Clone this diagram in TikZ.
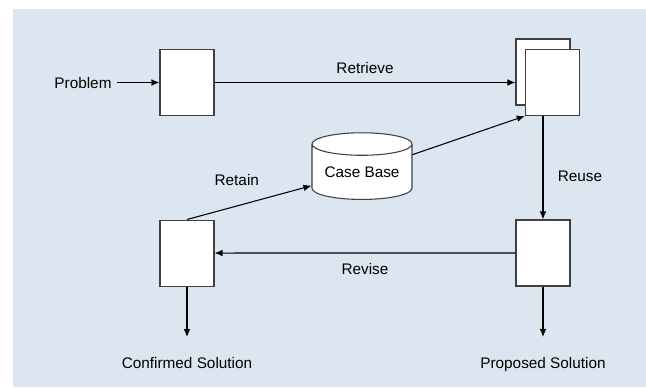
\documentclass[tikz,border=0pt]{standalone}
\usepackage{fontspec}
\setmainfont{Liberation Sans}
\usepackage{tikz}
\usetikzlibrary{arrows.meta,positioning,shapes.geometric}
\definecolor{bgblue}{RGB}{220,230,241}
\definecolor{linegray}{RGB}{64,64,64}
\tikzstyle{stage}=[draw=linegray, fill=white, minimum width=40.5pt, minimum height=49.5pt, inner sep=0pt]
\tikzstyle{casebase}=[draw=linegray, fill=white, cylinder, shape border rotate=90, aspect=0.3, minimum width=75pt, minimum height=50pt, inner sep=0pt]

\begin{document}
\begin{tikzpicture}[x=0.75pt,y=-0.75pt,auto,>={Latex[length=6pt,width=5pt]},line width=0.8pt,text depth=0pt,font=\fontsize{11.5}{13}\selectfont]
    \useasboundingbox (0,0) rectangle (646,387);
    \fill[bgblue] (13,9) rectangle (646,387);
    \node [stage] (a) at (187,82.5) {};
    \node (prob) [left of=a,node distance=78pt] {Problem};
    \node [stage] (back) [right of=a,node distance=267pt,yshift=7.9pt] {};
    \node [stage] (ret) [right of=a,node distance=274pt] {};
    \node [stage] (prop) [below of=back,node distance=135.75pt] {};
    \node [stage] (conf) [below of=a,node distance=127.9pt] {};
    \node [casebase] (cb) at (362,172) {Case Base};
    \node (confsol) [below of=conf,node distance=82.5pt] {Confirmed Solution};
    \node (propsol) [below of=prop,node distance=82.5pt] {Proposed Solution};
    \node (confend) [below of=conf,node distance=63pt,coordinate] {};
    \node (propend) [below of=prop,node distance=63pt,coordinate] {};
    \path[->]
    (prob) edge (a)
    (a.east) edge node[above=3.3pt] {Retrieve} (a.east -| back.west)
    (cb) edge (ret.south west)
    (ret.south -| prop.north) edge node[right=7.4pt,pos=0.58] {Reuse} (prop)
    (prop) edge node[below=4pt] {Revise} (conf)
    (conf.north) edge node[above=11.6pt,pos=0.4] {Retain} (cb)
    (conf) edge (confend)
    (prop) edge (propend);
\end{tikzpicture}
\end{document}
